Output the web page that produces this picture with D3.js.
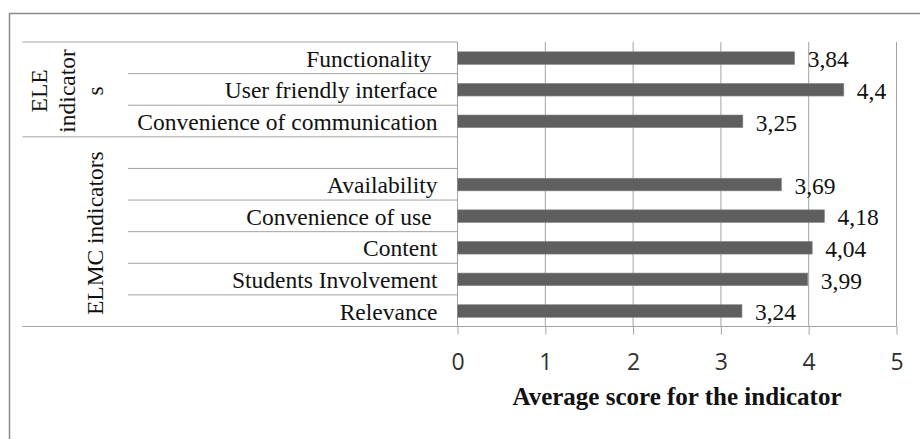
<!DOCTYPE html>
<html>
<head>
<meta charset="utf-8">
<script src="https://cdn.jsdelivr.net/npm/d3@7"></script>
<style>
  html, body { margin: 0; padding: 0; background: #fff; }
  svg { display: block; }
  text { white-space: pre; }
</style>
</head>
<body>
<svg id="chart" width="920" height="439"></svg>
<script>
// ---- data ----
const categories = ["Functionality ", "User friendly interface", "Convenience of communication", "",
                    "Availability", "Convenience of use ", "Content", "Students Involvement", "Relevance"];
const values = [3.84, 4.4, 3.25, null, 3.69, 4.18, 4.04, 3.99, 3.24];
const valueLabels = ["3,84", "4,4", "3,25", "", "3,69", "4,18", "4,04", "3,99", "3,24"];
const groupNames = [["ELE", "indicator", "s"], ["ELMC indicators"]];
const groupSizes = [3, 6];
const xTicks = [0, 1, 2, 3, 4, 5];
const xTitle = "Average score for the indicator";

// ---- layout ----
const svg = d3.select("#chart");
const plotLeft = 457.5, plotRight = 896.5, plotTop = 42, plotBottom = 326.5;
const catInnerLeft = 128, catOuterLeft = 22.5;
const serif = "'Liberation Serif', 'Times New Roman', serif";
const lineCol = "#a3a3a3";

svg.append("rect").attr("x", 0).attr("y", 0).attr("width", 920).attr("height", 439).attr("fill", "#fff");
// outer frame
svg.append("rect").attr("x", 9.5).attr("y", 13.5).attr("width", 940).attr("height", 500)
  .attr("fill", "none").attr("stroke", "#8a8a8a").attr("stroke-width", 1.5);

const x = d3.scaleLinear().domain([0, 5]).range([plotLeft, plotRight]);
const y = d3.scaleBand().domain(d3.range(categories.length)).range([plotTop, plotBottom]).padding(0);

// vertical gridlines
svg.append("g").selectAll("line").data(xTicks.filter(t => t > 0)).join("line")
  .attr("x1", d => x(d)).attr("x2", d => x(d))
  .attr("y1", plotTop).attr("y2", plotBottom)
  .attr("stroke", lineCol).attr("stroke-width", 1);

// x axis
const xAxis = d3.axisBottom(x).tickValues(xTicks).tickSizeInner(8).tickSizeOuter(0).tickPadding(19)
  .tickFormat(d3.format("d"));
const gx = svg.append("g").attr("transform", `translate(0,${plotBottom})`).call(xAxis);
gx.select(".domain").remove();
gx.selectAll(".tick line").attr("stroke", lineCol);
gx.selectAll(".tick text").attr("font-family", "'Open Sans', sans-serif").attr("font-size", 23)
  .attr("fill", "#303030");

// axis line (bottom) spanning categories area too
svg.append("line").attr("x1", catOuterLeft).attr("x2", plotRight).attr("y1", plotBottom).attr("y2", plotBottom)
  .attr("stroke", lineCol);
// category axis vertical line
svg.append("line").attr("x1", plotLeft).attr("x2", plotLeft).attr("y1", plotTop).attr("y2", plotBottom)
  .attr("stroke", lineCol);

// category divider lines
const boundaries = d3.range(categories.length + 1);
const groupBounds = [0];
groupSizes.forEach((s, i) => groupBounds.push(groupBounds[i] + s));
svg.append("g").selectAll("line").data(boundaries).join("line")
  .attr("x1", d => groupBounds.includes(d) ? catOuterLeft : catInnerLeft)
  .attr("x2", plotLeft)
  .attr("y1", d => d < categories.length ? y(d) : plotBottom)
  .attr("y2", d => d < categories.length ? y(d) : plotBottom)
  .attr("stroke", lineCol);

// bars
const barH = y.bandwidth() * 0.4;
svg.append("g").selectAll("rect").data(values.map((v, i) => ({v, i})).filter(d => d.v != null)).join("rect")
  .attr("x", x(0)).attr("width", d => x(d.v) - x(0))
  .attr("y", d => y(d.i) + y.bandwidth() / 2 - barH / 2 + 0.3)
  .attr("height", barH)
  .attr("fill", "#5f5f5f").attr("stroke", "#8a8a8a").attr("stroke-width", 0.6);

// value labels
svg.append("g").selectAll("text").data(values.map((v, i) => ({v, i})).filter(d => d.v != null)).join("text")
  .attr("x", d => x(d.v) + 13)
  .attr("y", d => y(d.i) + y.bandwidth() / 2 + 9.5)
  .attr("font-family", serif).attr("font-size", 23.5).attr("fill", "#111")
  .text(d => valueLabels[d.i]);

// category labels
svg.append("g").selectAll("text").data(categories).join("text")
  .attr("x", plotLeft - 20)
  .attr("y", (d, i) => y(i) + y.bandwidth() / 2 + 9)
  .attr("text-anchor", "end")
  .attr("font-family", serif).attr("font-size", 23.5).attr("fill", "#111")
  .text(d => d);

// group labels (rotated)
groupNames.forEach((lines, gi) => {
  const y0 = y(groupBounds[gi]);
  const y1 = groupBounds[gi + 1] < categories.length ? y(groupBounds[gi + 1]) : plotBottom;
  const cy = (y0 + y1) / 2 + 1.5;
  const n = lines.length;
  lines.forEach((ln, li) => {
    const bx = 102.5 - (n - 1 - li) * 27.8;
    svg.append("text")
      .attr("transform", `translate(${bx},${cy}) rotate(-90)`)
      .attr("text-anchor", "middle")
      .attr("font-family", serif).attr("font-size", 23.5).attr("fill", "#111")
      .text(ln);
  });
});

// x axis title
svg.append("text")
  .attr("x", (plotLeft + plotRight) / 2).attr("y", 405)
  .attr("text-anchor", "middle")
  .attr("font-family", serif).attr("font-size", 25).attr("font-weight", "bold").attr("fill", "#111")
  .text(xTitle);
</script>
</body>
</html>
